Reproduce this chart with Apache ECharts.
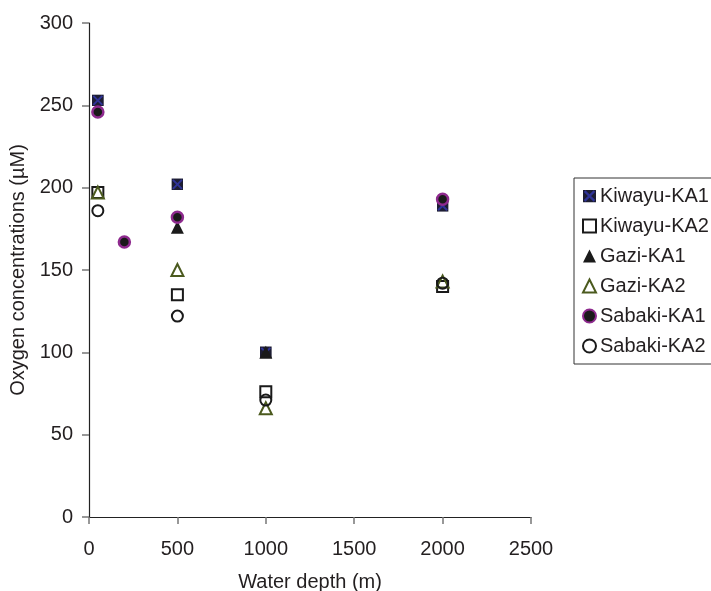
<!DOCTYPE html>
<html>
<head>
<meta charset="utf-8">
<script src="https://cdn.jsdelivr.net/npm/echarts@6/dist/echarts.min.js"></script>
<style>
html,body{margin:0;padding:0;background:#fff;}
#c{width:711px;height:591px;}
</style>
</head>
<body>
<div id="c"></div>
<script>
// Data: [water depth (m), oxygen (µM)]
const kiwayuKA1 = [[50, 253], [500, 202], [1000, 100], [2000, 189]];
const kiwayuKA2 = [[50, 197], [500, 135], [1000, 76], [2000, 140]];
const gaziKA1 = [[500, 176], [1000, 100]];
const gaziKA2 = [[50, 197], [500, 150], [1000, 66], [2000, 143]];
const sabakiKA1 = [[50, 246], [200, 167], [500, 182], [2000, 193]];
const sabakiKA2 = [[50, 186], [500, 122], [1000, 71], [2000, 142]];
const seriesNames = ['Kiwayu-KA1', 'Kiwayu-KA2', 'Gazi-KA1', 'Gazi-KA2', 'Sabaki-KA1', 'Sabaki-KA2'];
const xTicks = [0, 500, 1000, 1500, 2000, 2500];
const yTicks = [0, 50, 100, 150, 200, 250, 300];

const FONT = "'Liberation Sans', Arial, Helvetica, sans-serif";
const TXT = '#231f20';

const xSquareSvg = "<svg xmlns='http://www.w3.org/2000/svg' width='24' height='24' viewBox='0 0 24 24'>" +
  "<rect width='24' height='24' fill='#1d1d33'/>" +
  "<path d='M3 3L21 21M21 3L3 21' stroke='#2f3398' stroke-width='4'/></svg>";
const xSquareSymbol = 'image://data:image/svg+xml;charset=utf-8,' + encodeURIComponent(xSquareSvg);

const chart = echarts.init(document.getElementById('c'), null, {renderer: 'canvas'});
const clear = 'rgba(255,255,255,0)';

chart.setOption({
  animation: false,
  backgroundColor: '#fff',
  textStyle: {fontFamily: FONT},
  grid: {left: 89, right: 180, top: 23, bottom: 74, containLabel: false, outerBoundsMode: 'none'},
  xAxis: {
    type: 'value',
    min: xTicks[0], max: xTicks[xTicks.length - 1], interval: 500,
    name: 'Water depth (m)', nameLocation: 'middle', nameGap: 55,
    nameTextStyle: {fontFamily: FONT, fontSize: 20, color: TXT},
    axisLine: {show: true, onZero: false, lineStyle: {color: '#222', width: 1.2}},
    axisTick: {show: true, inside: false, length: 7, lineStyle: {color: '#777', width: 1.5}},
    axisLabel: {fontFamily: FONT, fontSize: 20, color: TXT, margin: 22, formatter: v => String(v)},
    splitLine: {show: false}
  },
  yAxis: {
    type: 'value',
    min: yTicks[0], max: yTicks[yTicks.length - 1], interval: 50,
    name: 'Oxygen concentrations (µM)', nameLocation: 'middle', nameGap: 61, nameRotate: 90,
    nameTextStyle: {fontFamily: FONT, fontSize: 20, color: TXT},
    axisLine: {show: true, onZero: false, lineStyle: {color: '#222', width: 1.2}},
    axisTick: {show: true, inside: false, length: 7, lineStyle: {color: '#777', width: 1.5}},
    axisLabel: {fontFamily: FONT, fontSize: 20, color: TXT, margin: 16, formatter: v => String(v)},
    splitLine: {show: false}
  },
  legend: {
    data: seriesNames,
    orient: 'vertical',
    left: 574, top: 178,
    padding: [8, 8, 8, 8],
    itemGap: 10,
    itemWidth: 13, itemHeight: 13,
    backgroundColor: '#fff',
    borderColor: '#333', borderWidth: 1,
    textStyle: {fontFamily: FONT, fontSize: 20, color: TXT, padding: [0, 0, 0, -1]},
    selectedMode: false
  },
  series: [
    {name: 'Kiwayu-KA1', type: 'scatter', data: kiwayuKA1, symbol: xSquareSymbol, symbolSize: 12,
     itemStyle: {color: '#1d1d33', opacity: 1}},
    {name: 'Kiwayu-KA2', type: 'scatter', data: kiwayuKA2, symbol: 'rect', symbolSize: 11,
     itemStyle: {color: clear, borderColor: '#1a1a1a', borderWidth: 2, opacity: 1}},
    {name: 'Gazi-KA1', type: 'scatter', data: gaziKA1, symbol: 'triangle', symbolSize: 13,
     itemStyle: {color: '#1a1a1a', opacity: 1}},
    {name: 'Gazi-KA2', type: 'scatter', data: gaziKA2, symbol: 'triangle', symbolSize: 12,
     itemStyle: {color: clear, borderColor: '#4b5a1e', borderWidth: 2, opacity: 1}},
    {name: 'Sabaki-KA1', type: 'scatter', data: sabakiKA1, symbol: 'circle', symbolSize: 11,
     itemStyle: {color: '#1a1a1a', borderColor: '#8e2a8e', borderWidth: 2.5, opacity: 1}},
    {name: 'Sabaki-KA2', type: 'scatter', data: sabakiKA2, symbol: 'circle', symbolSize: 11,
     itemStyle: {color: clear, borderColor: '#1a1a1a', borderWidth: 2, opacity: 1}}
  ]
});
</script>
</body>
</html>
